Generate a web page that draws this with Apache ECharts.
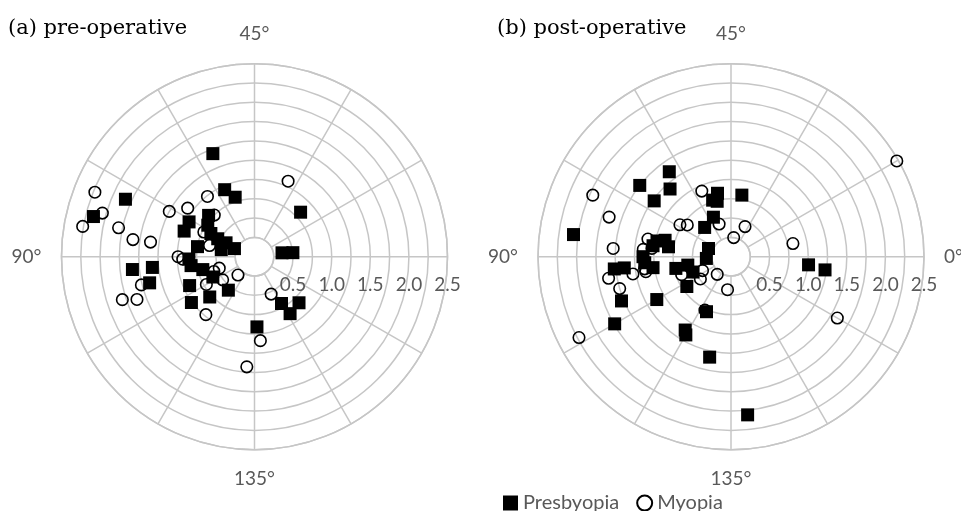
<!DOCTYPE html>
<html><head><meta charset="utf-8">
<script src="https://cdn.jsdelivr.net/npm/echarts@6/dist/echarts.min.js"></script>
<style>html,body{margin:0;padding:0;background:#fff}#c{width:961px;height:511px}</style>
</head><body><div id="c"></div>
<script>
// (a) pre-operative
const prePresbyopiaMag  = [1.44,0.95,0.81,1.83,0.83,2.15,0.80,0.96,0.97,0.73,0.64,0.53,0.75,0.41,0.28,0.44,0.85,0.83,0.69,0.60,0.92,0.55,0.78,1.01,1.59,1.33,1.40,0.91,0.70,0.87,0.83,0.36,0.50];
const prePresbyopiaAxis = [56,57,54,78,22,83,69,76,80,73,76,77,85,77,79,84,91,94,97,103,102,116,111,108,93,93,97,136,150,151,157,4,3];
const preMyopiaMag  = [1.07,2.23,2.05,2.26,1.80,1.59,1.36,1.25,1.07,0.99,0.75,0.73,0.60,0.93,0.99,0.48,0.56,0.32,0.51,0.72,0.98,1.51,1.80,1.62,0.53,1.09,1.43];
const preMyopiaAxis = [33,79,82,85,84,86,86,76,72,64,67,77,83,91,90,99,100,114,108,105,115,97,99,100,147,137,133];
// (b) post-operative
const postPresbyopiaMag  = [1.36,1.50,1.18,1.23,0.84,0.77,0.74,0.81,0.56,0.51,2.06,0.88,0.82,0.98,1.02,1.14,0.31,0.32,1.52,1.39,1.12,1.02,0.73,0.57,0.53,0.69,1.53,1.11,0.78,1.74,1.12,1.17,1.33,2.06,1.01,1.23];
const postPresbyopiaAxis = [63,71,66,72,51,54,52,40,57,66,86,83,85.5,84,86,90,80,92,93,93,92,94,96,95.5,101,107,101,105,123,105,119,120,129,138,177,176];
const postMyopiaMag  = [2.48,1.96,1.66,0.93,0.78,0.70,0.45,0.43,0.25,0.82,1.53,1.10,1.14,1.03,1.61,1.50,1.29,1.13,1.12,0.68,0.41,0.49,0.29,0.43,0.77,2.23,1.59];
const postMyopiaAxis = [15,78,81,57,74,72,55,32.5,41,6,88,84,87.6,87,95,98,95,94,95,100,103,108,116,132,122,104,165];

const angleTickLabels = [0,45,90,135];
const radiusTickLabels = [0.5,1.0,1.5,2.0,2.5];
const titles = ['(a) pre-operative','(b) post-operative'];

function pairs(mag, ax){ return mag.map((m,i)=>[m, ax[i]]); }

const gridColor = '#c6c6c6';
const labelColor = '#595959';
const centers = [[254.5,256.7],[731,256.7]];

function angleAxis(idx, showZero){
  return {
    polarIndex: idx, type:'value', min:0, max:180, interval:15,
    startAngle:0, clockwise:false,
    axisLine:{lineStyle:{color:gridColor,width:1.5}},
    axisTick:{show:false},
    splitLine:{lineStyle:{color:gridColor,width:1.5}},
    axisLabel:{margin:20,color:labelColor,fontFamily:'Lato',fontSize:19,
      formatter: v => (angleTickLabels.indexOf(v)>=0 && (showZero || v!==0)) ? v+'°' : ''}
  };
}
function radiusAxis(idx){
  return {
    polarIndex: idx, type:'value', min:0.25, max:2.5, interval:0.25,
    axisLine:{show:false}, axisTick:{show:false},
    splitLine:{lineStyle:{color:gridColor,width:1.5}},
    axisLabel:{margin:-38,color:labelColor,fontFamily:'Lato',fontSize:19,
      formatter: v => radiusTickLabels.some(t=>Math.abs(t-v)<1e-6) ? v.toFixed(1) : ''}
  };
}
const circleStyle = {color:'rgba(255,255,255,0)',borderColor:'#000',borderWidth:1.6,opacity:1};
const squareStyle = {color:'#000',opacity:1};

const chart = echarts.init(document.getElementById('c'));
chart.setOption({
  animation:false,
  backgroundColor:'#fff',
  title: titles.map((t,i)=>({text:t,left: i===0?8:497, top:18, padding:0,
    textStyle:{fontFamily:'DejaVu Serif',fontSize:21,fontWeight:'normal',color:'#000'}})),
  legend:{left:503, top:493, padding:0, itemWidth:15, itemHeight:15, itemGap:17,
    textStyle:{fontFamily:'Lato',fontSize:20,color:labelColor},
    data:['Presbyopia','Myopia']},
  polar: centers.map(c=>({center:c, radius:[19.3,193]})),
  angleAxis:[angleAxis(0,false), angleAxis(1,true)],
  radiusAxis:[radiusAxis(0), radiusAxis(1)],
  series:[
    {name:'Myopia',type:'scatter',coordinateSystem:'polar',polarIndex:0,symbol:'circle',symbolSize:11.5,itemStyle:circleStyle,data:pairs(preMyopiaMag,preMyopiaAxis)},
    {name:'Presbyopia',type:'scatter',coordinateSystem:'polar',polarIndex:0,symbol:'rect',symbolSize:13,itemStyle:squareStyle,data:pairs(prePresbyopiaMag,prePresbyopiaAxis)},
    {name:'Myopia',type:'scatter',coordinateSystem:'polar',polarIndex:1,symbol:'circle',symbolSize:11.5,itemStyle:circleStyle,data:pairs(postMyopiaMag,postMyopiaAxis)},
    {name:'Presbyopia',type:'scatter',coordinateSystem:'polar',polarIndex:1,symbol:'rect',symbolSize:13,itemStyle:squareStyle,data:pairs(postPresbyopiaMag,postPresbyopiaAxis)}
  ]
});
</script></body></html>
